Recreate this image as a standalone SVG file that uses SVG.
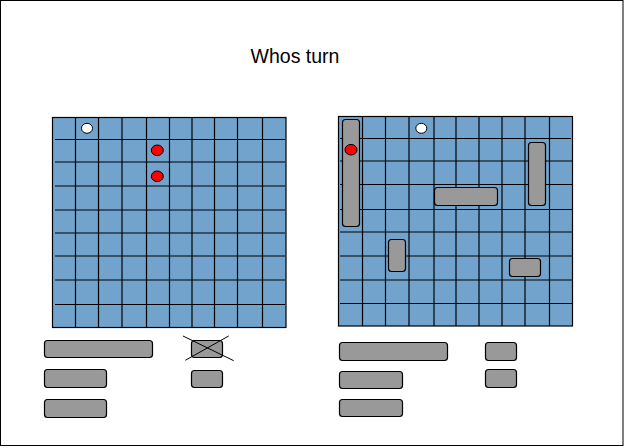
<svg xmlns="http://www.w3.org/2000/svg" width="624" height="448" viewBox="0 0 624 448">
<style>
.frame{fill:#ffffff;stroke:#000000;stroke-width:1}
.board{fill:#72A3CC;stroke:#000000;stroke-width:1.2}
.grid line{stroke:#000000;stroke-width:1.2}
.ship{fill:#999999;stroke:#000000;stroke-width:1.2}
.hit{fill:#FF0000;stroke:#000000;stroke-width:1}
.miss{fill:#FFFFFF;stroke:#000000;stroke-width:1}
.cross{stroke:#000000;stroke-width:1}
.title{font-family:"Liberation Sans",Arial,sans-serif;font-size:19.5px;fill:#000000}
</style>
<rect class="frame" x="0.5" y="0.5" width="622.5" height="445"/>
<text class="title" x="295" y="63" text-anchor="middle">Whos turn</text>

<g id="board-left">
<rect class="board" x="52.5" y="117.5" width="233.5" height="210"/>
<g class="grid">
<line x1="75.5" y1="117.5" x2="75.5" y2="327.5"/>
<line x1="98.5" y1="117.5" x2="98.5" y2="327.5"/>
<line x1="122" y1="117.5" x2="122" y2="327.5"/>
<line x1="146.5" y1="117.5" x2="146.5" y2="327.5"/>
<line x1="169.5" y1="117.5" x2="169.5" y2="327.5"/>
<line x1="192" y1="117.5" x2="192" y2="327.5"/>
<line x1="214.5" y1="117.5" x2="214.5" y2="327.5"/>
<line x1="237.5" y1="117.5" x2="237.5" y2="327.5"/>
<line x1="262.5" y1="117.5" x2="262.5" y2="327.5"/>
<line x1="55" y1="139.5" x2="285" y2="139.5"/>
<line x1="55" y1="162" x2="285" y2="162"/>
<line x1="55" y1="186" x2="285" y2="186"/>
<line x1="55" y1="210" x2="285" y2="210"/>
<line x1="55" y1="233" x2="285" y2="233"/>
<line x1="55" y1="256" x2="285" y2="256"/>
<line x1="55" y1="280" x2="285" y2="280"/>
<line x1="55" y1="304.5" x2="285" y2="304.5"/>
</g>
<ellipse class="miss" cx="87" cy="128.3" rx="5.5" ry="5"/>
<ellipse class="hit" cx="157.3" cy="150.3" rx="6" ry="5.3"/>
<ellipse class="hit" cx="157.3" cy="176.3" rx="6" ry="5.3"/>
</g>

<g id="board-right">
<rect class="board" x="338.5" y="116.5" width="234" height="209.5"/>
<g class="grid">
<line x1="362.5" y1="116.5" x2="362.5" y2="326"/>
<line x1="385.5" y1="116.5" x2="385.5" y2="326"/>
<line x1="409" y1="116.5" x2="409" y2="326"/>
<line x1="434" y1="116.5" x2="434" y2="326"/>
<line x1="456" y1="116.5" x2="456" y2="326"/>
<line x1="479" y1="116.5" x2="479" y2="326"/>
<line x1="502" y1="116.5" x2="502" y2="326"/>
<line x1="525" y1="116.5" x2="525" y2="326"/>
<line x1="549.5" y1="116.5" x2="549.5" y2="326"/>
<line x1="340" y1="138.5" x2="571" y2="138.5"/>
<line x1="340" y1="161" x2="572" y2="161"/>
<line x1="340" y1="184.5" x2="572" y2="184.5"/>
<line x1="340" y1="209.5" x2="572" y2="209.5"/>
<line x1="340" y1="232" x2="572" y2="232"/>
<line x1="340" y1="256" x2="572" y2="256"/>
<line x1="340" y1="280" x2="572" y2="280"/>
<line x1="340" y1="303.5" x2="572" y2="303.5"/>
</g>
<rect class="ship" x="342.5" y="119.5" width="17" height="107" rx="3"/>
<rect class="ship" x="528.5" y="142.5" width="17" height="63" rx="3"/>
<rect class="ship" x="434.5" y="187.5" width="63" height="18" rx="3"/>
<rect class="ship" x="388.5" y="239.5" width="17" height="32" rx="3"/>
<rect class="ship" x="509.5" y="258.5" width="31" height="18" rx="3"/>
<ellipse class="miss" cx="421.3" cy="128.3" rx="5.5" ry="5"/>
<ellipse class="hit" cx="351" cy="149.7" rx="6" ry="5.3"/>
</g>

<g id="fleet-left">
<rect class="ship" x="44.5" y="340.5" width="108" height="17" rx="3"/>
<rect class="ship" x="44.5" y="369.5" width="62" height="18" rx="3"/>
<rect class="ship" x="44.5" y="399.5" width="62" height="18" rx="3"/>
<rect class="ship" x="191.5" y="340.5" width="31" height="17" rx="3"/>
<line class="cross" x1="183" y1="336" x2="233.7" y2="360.7"/>
<line class="cross" x1="185.3" y1="360.3" x2="228.7" y2="336"/>
<rect class="ship" x="191.5" y="370.5" width="31" height="17" rx="3"/>
</g>

<g id="fleet-right">
<rect class="ship" x="339.5" y="342.5" width="108" height="18" rx="3"/>
<rect class="ship" x="339.5" y="371.5" width="63" height="17" rx="3"/>
<rect class="ship" x="339.5" y="399.5" width="63" height="17" rx="3"/>
<rect class="ship" x="485.5" y="342.5" width="31" height="18" rx="3"/>
<rect class="ship" x="485.5" y="369.5" width="31" height="18" rx="3"/>
</g>
</svg>
